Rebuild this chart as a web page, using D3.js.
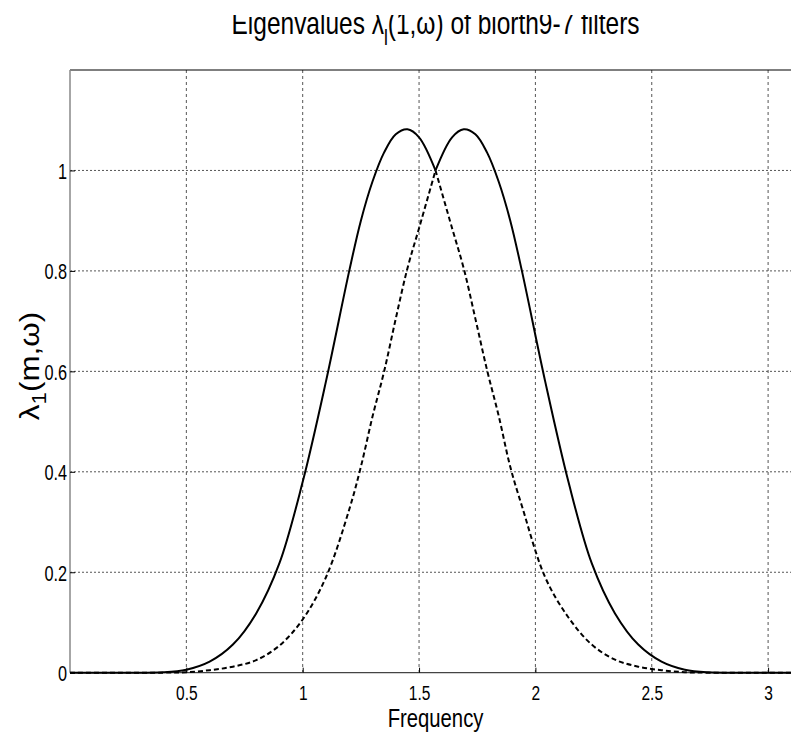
<!DOCTYPE html>
<html><head><meta charset="utf-8">
<script src="https://cdn.jsdelivr.net/npm/d3@7"></script>
<style>body{margin:0;background:#fff}svg{display:block}text{font-family:"Liberation Sans",Arial,sans-serif;fill:#000}</style>
</head><body>
<script>
// Frequency grid (rad) and eigenvalue readings
const freq = [0, 0.2, 0.4, 0.5, 0.6, 0.7, 0.8, 0.9, 1.0, 1.1, 1.2, 1.25, 1.3, 1.35, 1.4, 1.45, 1.5, 1.5708,
              1.642, 1.692, 1.742, 1.792, 1.842, 1.892, 1.942, 2.042, 2.142, 2.242, 2.342, 2.442, 2.542, 2.642, 2.742, 2.942, 3.1416];
const lambdaUpper = [0, 0, 0.0008, 0.006, 0.022, 0.056, 0.118, 0.218, 0.38, 0.58, 0.80, 0.9, 0.978, 1.036, 1.072, 1.082, 1.066, 1.0,
              1.066, 1.082, 1.072, 1.036, 0.978, 0.9, 0.80, 0.58, 0.38, 0.218, 0.118, 0.056, 0.022, 0.006, 0.0008, 0, 0];
const lambdaLower = [0, 0, 0.0001, 0.001, 0.005, 0.012, 0.025, 0.054, 0.106, 0.19, 0.325, 0.41, 0.51, 0.6, 0.705, 0.805, 0.885, 1.0,
              0.885, 0.805, 0.705, 0.603, 0.512, 0.41, 0.332, 0.19, 0.11, 0.056, 0.026, 0.012, 0.005, 0.001, 0.0001, 0, 0];
const xTicks = [0.5, 1, 1.5, 2, 2.5, 3];
const yTicks = [0, 0.2, 0.4, 0.6, 0.8, 1];
const kinkFreq = 1.5708;

const W = 791, H = 735;
const svg = d3.select("body").append("svg").attr("width", W).attr("height", H);
const L = 70, T = 70, B = 672.7, perUnit = 232.7;
const x = d3.scaleLinear().domain([0, Math.PI]).range([L, L + perUnit * Math.PI]);
const y = d3.scaleLinear().domain([0, 1.2]).range([B, T]);
const R = x(Math.PI);
const SX = 0.74;

svg.append("clipPath").attr("id", "plotclip").append("rect")
  .attr("x", L).attr("y", T - 2).attr("width", R - L + 4).attr("height", B - T + 4);

// grid
const grid = svg.append("g");
grid.selectAll("line.v").data(xTicks).join("line")
  .attr("x1", d => x(d)).attr("x2", d => x(d)).attr("y1", T).attr("y2", B)
  .attr("stroke", "#555").attr("stroke-width", 1).attr("stroke-dasharray", "3,3");
grid.selectAll("line.h").data(yTicks.filter(d => d > 0)).join("line")
  .attr("x1", L).attr("x2", R).attr("y1", d => y(d)).attr("y2", d => y(d))
  .attr("stroke", "#555").attr("stroke-width", 1).attr("stroke-dasharray", "2,2");

// box
svg.append("line").attr("x1", L).attr("x2", R).attr("y1", T).attr("y2", T).attr("stroke", "#000").attr("stroke-width", 1.2);
svg.append("line").attr("x1", L).attr("x2", L).attr("y1", T).attr("y2", B).attr("stroke", "#888").attr("stroke-width", 1.5);
svg.append("line").attr("x1", L).attr("x2", R).attr("y1", B).attr("y2", B).attr("stroke", "#444").attr("stroke-width", 1.2);

// axes
const xAxis = d3.axisBottom(x).tickValues(xTicks).tickSizeInner(-5).tickSizeOuter(0).tickPadding(12).tickFormat(d3.format("~g"));
const gx = svg.append("g").attr("transform", `translate(0,${B})`).call(xAxis);
gx.select(".domain").remove();
gx.selectAll("line").attr("stroke", "#000");
gx.selectAll("text").attr("font-size", 21).attr("transform", `scale(${SX},1)`).attr("fill", "#000");

const yAxis = d3.axisLeft(y).tickValues(yTicks).tickSizeInner(-5).tickSizeOuter(0).tickPadding(4).tickFormat(d3.format("~g"));
const gy = svg.append("g").attr("transform", `translate(${L},0)`).call(yAxis);
gy.select(".domain").remove();
gy.selectAll("line").attr("stroke", "#000");
gy.selectAll("text").attr("font-size", 22).attr("transform", `scale(${SX},1)`).attr("dy", "0.36em").attr("fill", "#000");

// curves, split at the crossing so the kink stays sharp
const pts = (vals) => freq.map((f, i) => [f, vals[i]]);
const split = (arr) => [arr.filter(p => p[0] <= kinkFreq), arr.filter(p => p[0] >= kinkFreq)];
const line = d3.line().x(d => x(d[0])).y(d => y(d[1])).curve(d3.curveCatmullRom.alpha(0.5));
const plot = svg.append("g").attr("clip-path", "url(#plotclip)");
split(pts(lambdaLower)).forEach(seg => plot.append("path").attr("d", line(seg))
  .attr("fill", "none").attr("stroke", "#000").attr("stroke-width", 2).attr("stroke-dasharray", "5,3"));
split(pts(lambdaUpper)).forEach(seg => plot.append("path").attr("d", line(seg))
  .attr("fill", "none").attr("stroke", "#000").attr("stroke-width", 2));

// title (top edge is clipped in the reference)
svg.append("clipPath").attr("id", "titleclip").append("rect").attr("x", 0).attr("y", 15).attr("width", W).attr("height", 60);
const cx = (L + R) / 2;
const title = svg.append("g").attr("clip-path", "url(#titleclip)")
  .append("g").attr("transform", `translate(${cx},34) scale(0.79,1)`)
  .append("text").attr("text-anchor", "middle").attr("font-size", 31);
title.append("tspan").text("Eigenvalues λ");
title.append("tspan").attr("font-size", 22).attr("dy", 11).text("l");
title.append("tspan").attr("dy", -11).text("(1,ω) of biorth9-7 filters");

// x label
svg.append("g").attr("transform", `translate(${cx},727) scale(0.78,1)`)
  .append("text").attr("text-anchor", "middle").attr("font-size", 26).text("Frequency");

// y label
const yl = svg.append("g").attr("transform", `translate(39,366) rotate(-90) scale(1.12,1)`)
  .append("text").attr("text-anchor", "middle").attr("font-size", 28);
yl.append("tspan").text("λ");
yl.append("tspan").attr("font-size", 20).attr("dy", 7).text("1");
yl.append("tspan").attr("dy", -7).text("(m,ω)");
</script>
</body></html>
